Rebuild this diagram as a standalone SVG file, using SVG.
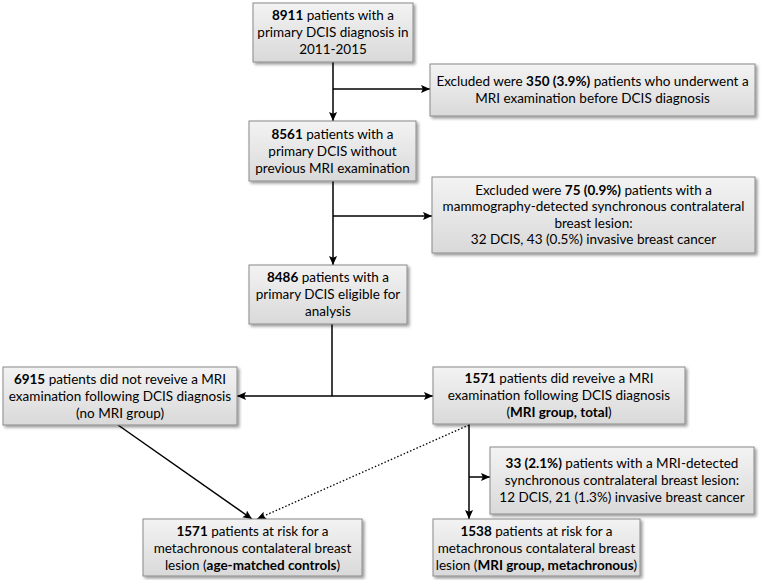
<svg xmlns="http://www.w3.org/2000/svg" width="762" height="580" viewBox="0 0 762 580">
<defs>
<linearGradient id="g" x1="0" y1="0" x2="0" y2="1">
<stop offset="0" stop-color="#f3f3f3"/>
<stop offset="1" stop-color="#d9d9d9"/>
</linearGradient>
<filter id="sh" x="-10%" y="-10%" width="120%" height="130%">
<feDropShadow dx="2" dy="2" stdDeviation="1.5" flood-color="#000" flood-opacity="0.4"/>
</filter>
<marker id="ah" viewBox="0 0 10 10" refX="10" refY="5" markerWidth="9" markerHeight="9" markerUnits="userSpaceOnUse" orient="auto">
<path d="M0,0.5 L10,5 L0,9.5 L2,5 Z" fill="#000"/>
</marker>
</defs>
<style>
.box{fill:url(#g);stroke:#8a8a8a;stroke-width:1;filter:url(#sh)}
text{font-family:Lato,"Open Sans",sans-serif;font-size:13.5px;fill:#000;text-anchor:middle}
.b{font-weight:bold}
.c{fill:none;stroke:#000;stroke-width:1.5}
.d{fill:none;stroke:#000;stroke-width:1.3;stroke-dasharray:1.5 2}
</style>
<rect width="762" height="580" fill="#fff"/>
<g id="connectors">
<line class="c" x1="333" y1="62" x2="333" y2="121" marker-end="url(#ah)"/>
<line class="c" x1="333" y1="89" x2="430" y2="89" marker-end="url(#ah)"/>
<line class="c" x1="333" y1="181" x2="333" y2="265" marker-end="url(#ah)"/>
<line class="c" x1="333" y1="216" x2="432" y2="216" marker-end="url(#ah)"/>
<line class="c" x1="332" y1="324" x2="332" y2="396"/>
<line class="c" x1="332" y1="396" x2="237" y2="396" marker-end="url(#ah)"/>
<line class="c" x1="332" y1="396" x2="433" y2="396" marker-end="url(#ah)"/>
<line class="c" x1="469" y1="424" x2="469" y2="519" marker-end="url(#ah)"/>
<line class="c" x1="469" y1="477" x2="490" y2="477" marker-end="url(#ah)"/>
<line class="c" x1="118" y1="425" x2="252" y2="519" marker-end="url(#ah)"/>
<line class="d" x1="469" y1="425" x2="257" y2="519" marker-end="url(#ah)"/>
</g>
<g id="n1">
<rect class="box" x="253" y="3" width="160" height="59"/>
<text x="333" y="20"><tspan class="b">8911</tspan> patients with a</text>
<text x="333" y="37">primary DCIS diagnosis in</text>
<text x="333" y="54">2011-2015</text>
</g>
<g id="ex1">
<rect class="box" x="430" y="64" width="325" height="52"/>
<text x="592.5" y="86">Excluded were <tspan class="b">350 (3.9%)</tspan> patients who underwent a</text>
<text x="592.5" y="103">MRI examination before DCIS diagnosis</text>
</g>
<g id="n2">
<rect class="box" x="249" y="121" width="167" height="60"/>
<text x="332.5" y="138.5"><tspan class="b">8561</tspan> patients with a</text>
<text x="332.5" y="155.5">primary DCIS without</text>
<text x="332.5" y="172.5">previous MRI examination</text>
</g>
<g id="ex2">
<rect class="box" x="432" y="177" width="323" height="76"/>
<text x="593.5" y="195">Excluded were <tspan class="b">75 (0.9%)</tspan> patients with a</text>
<text x="593.5" y="211">mammography-detected synchronous contralateral</text>
<text x="593.5" y="228">breast lesion:</text>
<text x="593.5" y="244">32 DCIS, 43 (0.5%) invasive breast cancer</text>
</g>
<g id="n3">
<rect class="box" x="249" y="265" width="158" height="59"/>
<text x="328" y="282"><tspan class="b">8486</tspan> patients with a</text>
<text x="328" y="299">primary DCIS eligible for</text>
<text x="328" y="316">analysis</text>
</g>
<g id="noMri">
<rect class="box" x="3" y="367" width="234" height="58"/>
<text x="120" y="383.5"><tspan class="b">6915</tspan> patients did not reveive a MRI</text>
<text x="120" y="400.5">examination following DCIS diagnosis</text>
<text x="120" y="417.5">(no MRI group)</text>
</g>
<g id="mri">
<rect class="box" x="433" y="367" width="252" height="57"/>
<text x="559" y="383"><tspan class="b">1571</tspan> patients did reveive a MRI</text>
<text x="559" y="400">examination following DCIS diagnosis</text>
<text x="559" y="417">(<tspan class="b">MRI group, total</tspan>)</text>
</g>
<g id="ex3">
<rect class="box" x="490" y="447" width="264" height="67"/>
<text x="622" y="468"><tspan class="b">33 (2.1%)</tspan> patients with a MRI-detected</text>
<text x="622" y="485">synchronous contralateral breast lesion:</text>
<text x="622" y="502">12 DCIS, 21 (1.3%) invasive breast cancer</text>
</g>
<g id="ctrl">
<rect class="box" x="143" y="519" width="219" height="57"/>
<text x="252.5" y="535.5"><tspan class="b">1571</tspan> patients at risk for a</text>
<text x="252.5" y="552.5">metachronous contalateral breast</text>
<text x="252.5" y="569.5">lesion (<tspan class="b">age-matched controls</tspan>)</text>
</g>
<g id="meta">
<rect class="box" x="433" y="519" width="207" height="57"/>
<text x="536.5" y="535.5"><tspan class="b">1538</tspan> patients at risk for a</text>
<text x="536.5" y="552.5">metachronous contalateral breast</text>
<text x="536.5" y="569.5">lesion (<tspan class="b">MRI group, metachronous</tspan>)</text>
</g>
</svg>
